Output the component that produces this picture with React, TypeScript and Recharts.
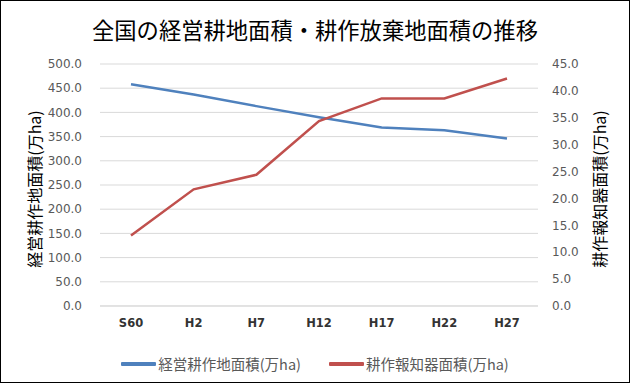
import React from 'react';
import { LineChart, Line, XAxis, YAxis, CartesianGrid, Legend, Label } from 'recharts';

const categories = ['S60', 'H2', 'H7', 'H12', 'H17', 'H22', 'H27'];
const farmland = [458, 437, 413, 390, 369, 363, 346];
const abandoned = [13.1, 21.7, 24.4, 34.4, 38.6, 38.6, 42.3];
const leftTicks = [0, 50, 100, 150, 200, 250, 300, 350, 400, 450, 500];
const rightTicks = [0, 5, 10, 15, 20, 25, 30, 35, 40, 45];

const seriesNames = ['経営耕作地面積(万ha)', '耕作報知器面積(万ha)'];
const title = '全国の経営耕地面積・耕作放棄地面積の推移';
const leftTitle = '経営耕作地面積(万ha)';
const rightTitle = '耕作報知器面積(万ha)';

const BLUE = '#4F81BD';
const RED = '#C0504D';
const CJK = '"Noto Sans CJK JP", "Noto Sans", sans-serif';

const data = categories.map((c, i) => ({ name: c, farmland: farmland[i], abandoned: abandoned[i] }));

const LegendContent = () => (
  <div style={{ display: 'flex', justifyContent: 'center', alignItems: 'center', fontFamily: CJK, fontSize: 14.5, color: '#595959' }}>
    {[BLUE, RED].map((c, i) => (
      <div key={i} style={{ display: 'flex', alignItems: 'center', marginRight: i === 0 ? 28 : 0 }}>
        <div style={{ width: 35, height: 4, background: c, marginRight: 2, borderRadius: 1 }} />
        <span>{seriesNames[i]}</span>
      </div>
    ))}
  </div>
);

const VTitle = (x: number, y: number, text: string) => (props: any) => (
  <text x={x} y={y} transform={`rotate(-90, ${x}, ${y})`} textAnchor="middle" dominantBaseline="central" fontFamily={CJK} fontSize={16} fill="#000">
    {text}
  </text>
);

export default function App() {
  return (
    <div style={{ position: 'relative', width: 630, height: 383, background: '#fff' }}>
      <style>{'body{margin:0}'}</style>
      <div style={{ position: 'absolute', left: 0, top: 0, width: 630, height: 383, boxSizing: 'border-box', border: '1.5px solid #000', pointerEvents: 'none', zIndex: 2 }} />
      <div style={{ position: 'absolute', left: 0, top: 14, width: 630, textAlign: 'center', fontFamily: CJK, fontSize: 22.3, color: '#000', lineHeight: '30px' }}>
        {title}
      </div>
      <LineChart width={630} height={383} data={data} margin={{ top: 64, bottom: 47, left: 20, right: 32 }}>
        <CartesianGrid yAxisId="left" vertical={false} stroke="#D9D9D9" strokeWidth={1} />
        <XAxis
          dataKey="name"
          height={30}
          padding={{ left: 31, right: 31 }}
          axisLine={{ stroke: '#D9D9D9' }}
          tickLine={false}
          tickSize={6}
          tickMargin={7}
          tick={{ fontFamily: 'DejaVu Sans', fontSize: 11.5, fontWeight: 'bold', fill: '#333' }}
        />
        <YAxis
          yAxisId="left"
          orientation="left"
          width={80}
          domain={[0, 500]}
          ticks={leftTicks}
          interval={0}
          axisLine={false}
          tickLine={false}
          tickSize={6}
          tickMargin={12}
          tickFormatter={(v: number) => v.toFixed(1)}
          tick={{ fontFamily: 'DejaVu Sans', fontSize: 12, fill: '#595959' }}
        >
          <Label content={VTitle(34, 189, leftTitle)} />
        </YAxis>
        <YAxis
          yAxisId="right"
          orientation="right"
          width={60}
          domain={[0, 45]}
          ticks={rightTicks}
          interval={0}
          axisLine={false}
          tickLine={false}
          tickSize={6}
          tickMargin={8}
          tickFormatter={(v: number) => v.toFixed(1)}
          tick={{ fontFamily: 'DejaVu Sans', fontSize: 12, fill: '#595959' }}
        >
          <Label content={VTitle(599, 189, rightTitle)} />
        </YAxis>
        <Line yAxisId="left" type="linear" dataKey="farmland" name={seriesNames[0]} stroke={BLUE} strokeWidth={2.5} dot={false} isAnimationActive={false} />
        <Line yAxisId="right" type="linear" dataKey="abandoned" name={seriesNames[1]} stroke={RED} strokeWidth={2.5} dot={false} isAnimationActive={false} />
        <Legend verticalAlign="middle" align="center" layout="horizontal" content={<LegendContent />} wrapperStyle={{ top: 353, left: 0, width: 630 }} />
      </LineChart>
    </div>
  );
}
